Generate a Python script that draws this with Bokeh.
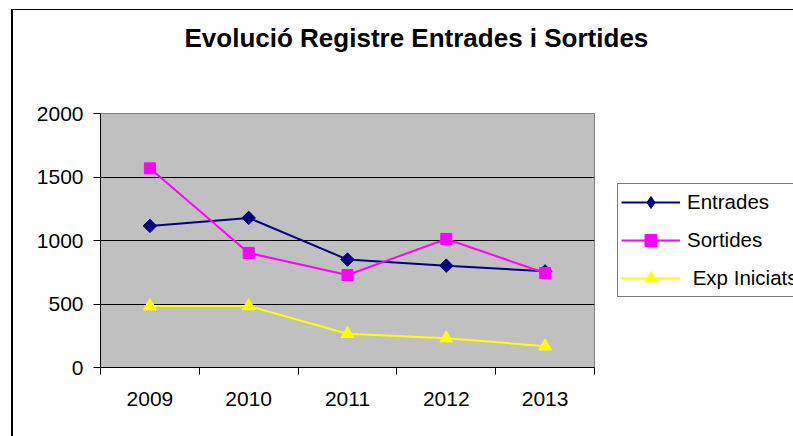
import math
from bokeh.plotting import figure
from bokeh.models import Range1d, FixedTicker, Legend, LegendItem, Title
from bokeh.embed import file_html
from bokeh.resources import INLINE

# ---- data ----
years = ["2009", "2010", "2011", "2012", "2013"]
entrades = [1115, 1178, 850, 802, 757]
sortides = [1568, 902, 728, 1012, 744]
exp_iniciats = [484, 484, 266, 231, 168]
y_ticks = [0, 500, 1000, 1500, 2000]
title_text = "Evolució Registre Entrades i Sortides"
series_names = ["Entrades", "Sortides", " Exp Iniciats"]

FONT = "Liberation Sans"

xs = [i + 0.5 for i in range(len(years))]

p = figure(frame_width=494, frame_height=254, output_backend="svg", toolbar_location=None,
           x_range=Range1d(0, len(years)), y_range=Range1d(0, 2000),
           min_border_left=100, min_border_right=199, min_border_top=113, min_border_bottom=69)
p.background_fill_color = "#C0C0C0"
p.border_fill_color = "white"
p.outline_line_color = "#808080"
p.outline_line_width = 1

# outer chart border (left and top edges visible)
p.stylesheets = [
    ":host::after { content: ''; position: absolute; left: 11px; top: 9px; "
    "width: 2000px; height: 2000px; border-left: 2px solid black; "
    "border-top: 1.5px solid black; pointer-events: none; }"
]

# title
p.title.text = title_text
p.title.align = "left"
p.title.offset = 84
p.title.vertical_align = "bottom"
p.title.standoff = 0
p.title.text_font = FONT
p.title.text_font_size = "26px"
p.title.text_font_style = "bold"
p.title.text_color = "black"
spacer = Title(text=" ", text_font_size="1px", standoff=58)
p.add_layout(spacer, "above")

# grid
p.xgrid.visible = False
p.ygrid.ticker = FixedTicker(ticks=[t for t in y_ticks if 0 < t < 2000])
p.ygrid.grid_line_color = "black"
p.ygrid.grid_line_width = 1

# y axis
p.yaxis.ticker = FixedTicker(ticks=y_ticks)
p.yaxis.axis_line_color = "black"
p.yaxis.major_tick_line_color = "black"
p.yaxis.major_tick_out = 7
p.yaxis.major_tick_in = 0
p.yaxis.minor_tick_line_color = None
p.yaxis.major_label_text_font = FONT
p.yaxis.major_label_text_font_size = "21px"
p.yaxis.major_label_text_color = "black"
p.yaxis.major_label_standoff = 10

# x axis: labels at category centres, ticks at boundaries
p.xaxis.ticker = FixedTicker(ticks=xs, minor_ticks=list(range(len(years) + 1)))
p.xaxis.major_label_overrides = {x: y for x, y in zip(xs, years)}
p.xaxis.axis_line_color = "black"
p.xaxis.major_tick_out = 0
p.xaxis.major_tick_in = 0
p.xaxis.minor_tick_out = 7
p.xaxis.minor_tick_in = 0
p.xaxis.minor_tick_line_color = "black"
p.xaxis.major_label_text_font = FONT
p.xaxis.major_label_text_font_size = "21px"
p.xaxis.major_label_text_color = "black"
p.xaxis.major_label_standoff = 17

# series
l1 = p.line(xs, entrades, line_color="#000080", line_width=2)
k1 = p.scatter(xs, entrades, marker="diamond", size=12,
               fill_color="#000080", line_color="#000080")
m1 = p.scatter(xs, entrades, marker="square", size=9.5, angle=math.pi / 4,
               fill_color="#000080", line_color="#000080")
l2 = p.line(xs, sortides, line_color="#FF00FF", line_width=2)
m2 = p.scatter(xs, sortides, marker="square", size=11,
               fill_color="#FF00FF", line_color="#FF00FF")
l3 = p.line(xs, exp_iniciats, line_color="#FFFF00", line_width=2)
m3 = p.scatter(xs, exp_iniciats, marker="triangle", size=13,
               fill_color="#FFFF00", line_color="#FFFF00")

legend = Legend(items=[
    LegendItem(label=series_names[0], renderers=[l1, k1]),
    LegendItem(label=series_names[1], renderers=[l2, m2]),
    LegendItem(label=series_names[2], renderers=[l3, m3]),
], location="center_left")
legend.padding = 3
legend.spacing = 8
legend.margin = 23
legend.glyph_height = 30
legend.glyph_width = 59
legend.label_standoff = 7
legend.label_text_font = FONT
legend.label_text_font_size = "20.5px"
legend.label_text_color = "black"
legend.border_line_color = "black"
legend.border_line_width = 1
legend.background_fill_color = "white"
legend.background_fill_alpha = 1
p.add_layout(legend, "right")

open("out.html", "w").write(file_html(p, INLINE))
